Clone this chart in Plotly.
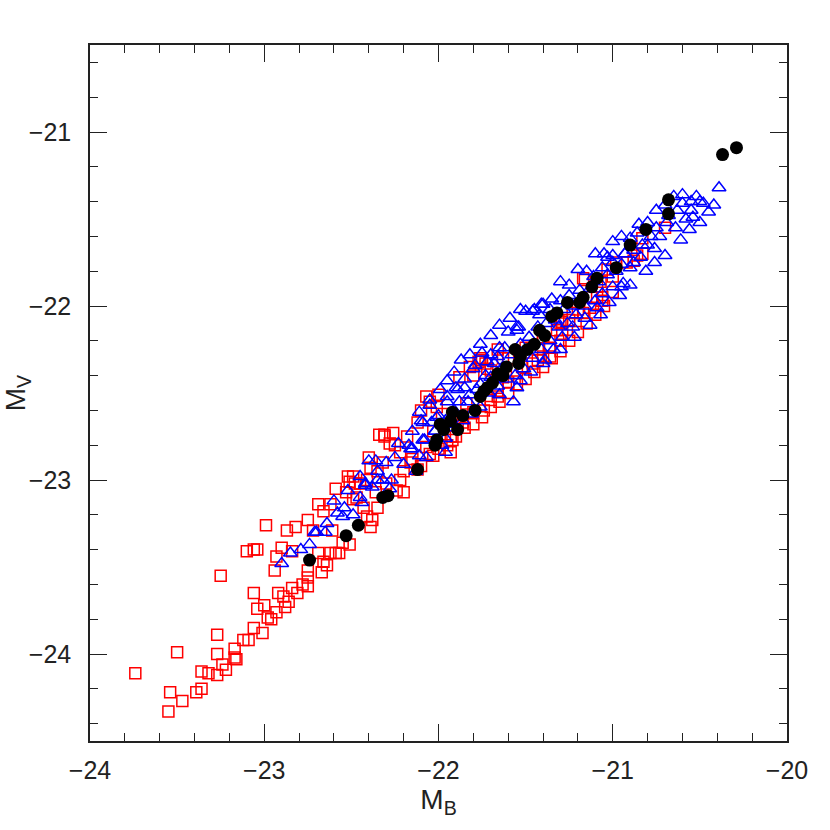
import plotly.graph_objects as go

# ---------------- data ----------------
# red open squares
red_mb = [
    -23.74, -23.55, -23.54, -23.47, -23.50, -23.39, -23.36, -23.36, -23.32, -23.27,
    -23.27, -23.27, -23.24, -23.22, -23.17, -23.17, -23.16, -23.12, -23.09, -23.06,
    -23.01, -23.06, -23.04, -23.00, -22.98, -22.96, -22.93, -22.92, -22.89, -22.88,
    -22.86, -22.84, -22.81, -22.78, -22.75, -22.75, -23.25, -23.10, -23.06, -23.04,
    -22.99, -22.93, -22.94, -22.90, -22.87, -22.84, -22.82, -22.75, -22.75, -22.72,
    -22.69, -22.66, -22.67, -22.64, -22.62, -22.59, -22.57, -22.69, -22.62, -22.66,
    -22.59, -22.52, -22.51, -22.53, -22.49, -22.61, -22.55, -22.51, -22.45, -22.43,
    -22.41, -22.39, -22.38, -22.34, -22.35, -22.31,
    -22.49, -22.48, -22.40, -22.39, -22.31, -22.26, -22.28, -22.32, -22.22, -22.12,
    -22.07, -22.00, -22.07, -22.03, -21.93, -21.92, -22.01, -21.84, -21.74, -21.70,
    -21.66, -21.77, -21.75, -21.70, -21.52, -21.46, -21.43, -21.36, -21.40, -21.32,
    -21.29, -21.30, -21.23, -21.17, -21.09, -21.06, -21.00, -20.92, -20.86, -20.88,
    -20.83, -22.22, -22.16, -22.12, -22.24, -22.20, -22.41, -22.47, -22.36, -22.30,
    -22.03, -21.93, -21.89, -21.86, -21.80, -21.66, -21.63, -21.60, -21.55, -21.43,
    -21.40, -21.36, -21.29, -21.25, -21.17, -21.13, -21.09, -21.07, -21.03, -20.98,
    -21.88, -21.82, -21.76, -21.73, -21.66, -21.63, -21.16, -21.06, -20.83, -20.70,
    -22.20, -22.15, -22.10, -22.05, -22.00, -21.95, -21.90, -21.85, -21.80, -21.75,
    -21.70, -21.65, -21.60, -21.55, -21.50, -21.45, -21.40, -21.35, -21.30, -21.25,
    -21.20, -21.15, -21.10, -21.05, -21.00, -22.10, -22.05, -21.98, -21.80, -21.72,
    -21.60, -21.50, -21.40, -21.30, -21.20, -21.12, -22.25, -22.18, -22.35,
]
red_mv = [
    -24.11, -24.33, -24.22, -24.27, -23.99, -24.22, -24.20, -24.10, -24.11, -24.12,
    -24.00, -23.89, -24.06, -24.09, -24.02, -23.97, -24.03, -23.92, -23.92, -23.85,
    -23.88, -23.65, -23.74, -23.72, -23.79, -23.80, -23.76, -23.65, -23.67, -23.73,
    -23.70, -23.62, -23.65, -23.60, -23.61, -23.56, -23.55, -23.41, -23.40, -23.40,
    -23.26, -23.44, -23.52, -23.39, -23.29, -23.41, -23.27, -23.23, -23.52, -23.29,
    -23.42, -23.47, -23.53, -23.49, -23.42, -23.42, -23.42, -23.14, -23.14, -23.18,
    -23.05, -22.98, -23.01, -23.07, -23.11, -23.29, -23.36, -23.37, -23.02, -23.16,
    -23.21, -23.27, -23.23, -22.74, -23.16, -22.75,
    -22.98, -23.02, -22.87, -22.93, -22.74, -22.73, -22.79, -22.90, -22.84, -22.67,
    -22.52, -22.51, -22.81, -22.86, -22.75, -22.77, -22.58, -22.56, -22.60, -22.54,
    -22.52, -22.32, -22.31, -22.37, -22.35, -22.33, -22.25, -22.24, -22.18, -22.14,
    -22.09, -22.20, -22.04, -21.84, -21.95, -21.97, -21.83, -21.75, -21.71, -21.74,
    -21.70, -23.00, -22.90, -22.94, -23.06, -23.07, -23.00, -23.10, -23.07, -23.02,
    -22.72, -22.84, -22.67, -22.67, -22.61, -22.47, -22.41, -22.44, -22.37, -22.31,
    -22.29, -22.29, -22.16, -22.08, -22.04, -22.01, -21.89, -21.86, -21.79, -21.75,
    -22.41, -22.35, -22.30, -22.33, -22.25, -22.30, -21.85, -21.95, -21.61, -21.55,
    -22.95, -22.88, -22.92, -22.85, -22.82, -22.80, -22.75, -22.70, -22.68, -22.64,
    -22.58, -22.55, -22.50, -22.45, -22.42, -22.38, -22.35, -22.30, -22.26, -22.20,
    -22.15, -22.10, -22.05, -22.00, -21.92, -22.60, -22.55, -22.62, -22.40, -22.36,
    -22.30, -22.24, -22.18, -22.10, -22.02, -21.95, -22.80, -22.75, -22.95,
]

# blue open triangles
blue_mb = [
    -22.90, -22.79, -22.74, -22.71, -22.70, -22.64, -22.58, -22.54, -22.55, -22.49,
    -22.52, -22.44, -22.42, -22.38, -22.40, -22.36, -22.35,
    -22.45, -22.42, -22.32, -22.27, -22.25, -22.23, -22.20, -22.16, -22.15, -22.09,
    -22.07, -22.04, -22.09, -22.05, -22.01, -21.96, -21.95, -21.89, -21.85, -21.79,
    -21.72, -21.66, -21.62, -21.55, -21.54, -21.46, -21.41, -21.57, -21.55, -21.40,
    -21.34, -21.29, -21.23, -21.16, -21.09, -21.03, -21.00, -20.94, -20.95, -20.90,
    -20.84,
    -20.39, -20.52, -20.48, -20.55, -20.60, -20.54, -20.63, -20.64, -20.69, -20.75,
    -20.73, -20.76, -20.80, -20.86, -20.93, -20.88, -20.95, -21.00, -21.06, -21.11,
    -21.00, -21.06, -21.10,
    -21.53, -21.59, -21.65, -21.70, -21.76, -21.82, -21.87, -21.91, -21.95, -21.99,
    -22.05, -22.11,
    -21.65, -21.53, -21.47, -21.39, -21.30, -21.22, -21.13, -21.07, -21.02, -20.96,
    -20.90, -20.81, -20.76, -20.70, -20.61, -20.56, -20.50, -20.45, -20.42,
    -21.82, -21.76, -21.70, -21.91, -21.96, -22.02, -22.08,
    -21.42, -21.36, -21.30, -21.25, -21.19,
    -22.15, -22.13, -22.17, -22.10, -22.11, -22.00, -22.02, -21.98, -21.95, -21.93,
    -21.96, -21.90, -21.88, -21.91, -21.85, -21.83, -21.86, -21.80, -21.78, -21.81,
    -21.75, -21.73, -21.76, -21.70, -21.68, -21.71, -21.65, -21.63, -21.66, -21.60,
    -21.58, -21.61, -21.55, -21.53, -21.56, -21.50, -21.48, -21.51, -21.45, -21.43,
    -21.46, -21.40, -21.38, -21.41, -21.35, -21.33, -21.36, -21.30, -21.28, -21.31,
    -21.25, -21.23, -21.26, -21.20, -21.18, -21.21, -21.15, -21.13, -21.16, -21.10,
    -21.08, -21.05, -21.03, -21.00, -20.98, -20.95, -20.93, -20.90, -20.88, -20.85,
    -20.83, -20.80, -20.78, -20.75, -20.70, -20.68, -20.65, -20.60, -20.58, -20.55,
    -20.50, -22.30, -22.28, -22.35, -22.45, -22.60, -22.65, -22.85,
]
blue_mv = [
    -23.48, -23.40, -23.37, -23.30, -23.30, -23.25, -23.19, -23.16, -23.21, -23.20,
    -23.06, -23.13, -23.02, -23.04, -22.89, -22.89, -22.95,
    -23.10, -23.03, -23.00, -23.00, -22.87, -22.79, -22.91, -22.82, -22.82, -22.77,
    -22.87, -22.67, -22.67, -22.57, -22.64, -22.84, -22.55, -22.48, -22.47, -22.34,
    -22.32, -22.29, -22.24, -22.14, -22.12, -22.03, -21.99, -22.55, -22.47, -22.33,
    -22.25, -22.18, -22.12, -22.07, -22.01, -21.72, -21.71, -21.87, -21.89, -21.78,
    -21.72,
    -21.32, -21.37, -21.41, -21.40, -21.41, -21.49, -21.45, -21.55, -21.52, -21.55,
    -21.60, -21.67, -21.65, -21.58, -21.70, -21.75, -21.76, -21.75, -21.78, -21.83,
    -21.89, -21.93, -21.97,
    -22.02, -22.07, -22.11, -22.17, -22.22, -22.28, -22.31, -22.38, -22.43, -22.48,
    -22.54, -22.61,
    -22.51, -22.43, -22.38, -22.31, -22.25, -22.18, -22.11, -22.05, -21.98, -21.94,
    -21.88, -21.80, -21.75, -21.71, -21.62, -21.56, -21.52, -21.46, -21.42,
    -22.51, -22.45, -22.41, -22.60, -22.66, -22.72, -22.77,
    -22.05, -22.02, -21.97, -21.94, -21.91,
    -22.72, -22.95, -22.80, -22.66, -22.86, -22.63, -22.72, -22.80, -22.52, -22.68,
    -22.76, -22.47, -22.55, -22.70, -22.42, -22.55, -22.66, -22.36, -22.48, -22.62,
    -22.27, -22.40, -22.58, -22.28, -22.33, -22.50, -22.24, -22.35, -22.46, -22.15,
    -22.28, -22.42, -22.12, -22.22, -22.40, -22.03, -22.18, -22.36, -22.02, -22.12,
    -22.30, -21.99, -22.10, -22.25, -21.96, -22.08, -22.20, -21.86, -22.02, -22.12,
    -21.88, -22.00, -22.10, -21.79, -21.96, -22.05, -21.80, -21.90, -22.00, -21.70,
    -21.86, -21.70, -21.82, -21.63, -21.80, -21.60, -21.70, -21.61, -21.68, -21.53,
    -21.65, -21.52, -21.60, -21.45, -21.42, -21.48, -21.37, -21.36, -21.50, -21.45,
    -21.40, -22.90, -23.05, -23.00, -22.98, -23.12, -23.30, -23.42,
]

# black filled circles
blk_mb = [
    -20.37, -20.29, -20.68, -20.68, -20.81, -20.90, -20.98, -21.09, -21.12, -21.17,
    -21.19, -21.26, -21.32, -21.35, -21.42, -21.39, -21.45, -21.49, -21.56, -21.53,
    -21.54, -21.61, -21.63, -21.66, -21.69, -21.72, -21.74, -21.76, -21.79, -21.86,
    -21.92, -21.93, -21.99, -21.97, -21.89, -22.01, -22.02, -22.12, -22.29, -22.32,
    -22.46, -22.53, -22.74,
]
blk_mv = [
    -21.13, -21.09, -21.39, -21.47, -21.56, -21.65, -21.78, -21.84, -21.89, -21.95,
    -21.98, -21.98, -22.04, -22.06, -22.14, -22.17, -22.22, -22.25, -22.25, -22.29,
    -22.33, -22.35, -22.40, -22.39, -22.44, -22.47, -22.49, -22.52, -22.60, -22.63,
    -22.61, -22.66, -22.68, -22.71, -22.71, -22.77, -22.80, -22.94, -23.09, -23.10,
    -23.26, -23.32, -23.46,
]

x_ticks = [-24, -23, -22, -21, -20]
y_ticks = [-24, -23, -22, -21]

# ---------------- figure ----------------
FONT = "Liberation Sans, Arial, sans-serif"

fig = go.Figure()
fig.add_trace(go.Scatter(
    x=red_mb, y=red_mv, mode="markers",
    marker=dict(symbol="square-open", size=11, color="#ff0000",
                line=dict(width=1.5, color="#ff0000")),
    showlegend=False))
fig.add_trace(go.Scatter(
    x=blue_mb, y=blue_mv, mode="markers",
    marker=dict(symbol="triangle-up-open", size=12, color="#0000ff",
                line=dict(width=1.5, color="#0000ff")),
    showlegend=False))
fig.add_trace(go.Scatter(
    x=blk_mb, y=blk_mv, mode="markers",
    marker=dict(symbol="circle", size=13, color="#000000",
                line=dict(width=0)),
    showlegend=False))

axis_common = dict(
    showline=True, linecolor="#222222", linewidth=1.5, mirror="allticks",
    ticks="inside", ticklen=17, tickwidth=1.2, tickcolor="#222222",
    showgrid=False, zeroline=False, automargin=False,
    tickfont=dict(family=FONT, size=25, color="#222222"),
    minor=dict(ticks="inside", ticklen=8.5, tickwidth=1.2, tickcolor="#222222",
               dtick=0.2, showgrid=False),
)

fig.update_layout(
    width=830, height=830,
    margin=dict(l=90, r=43, t=45, b=89),
    paper_bgcolor="white", plot_bgcolor="white",
    font=dict(family=FONT, color="#222222"),
    xaxis=dict(range=[-24, -20], tickvals=x_ticks, tick0=-24, dtick=1,
               title=dict(text="M<sub>B</sub>", font=dict(family=FONT, size=28),
                          standoff=6),
               ticklabelstandoff=6, **axis_common),
    yaxis=dict(range=[-24.5, -20.5], tickvals=y_ticks, tick0=-24, dtick=1,
               title=dict(text="M<sub>V</sub>", font=dict(family=FONT, size=28),
                          standoff=2),
               ticklabelstandoff=12, **axis_common),
)

fig.write_html("out.html", config={"displayModeBar": False},
               post_script="document.body.style.margin='0';")
